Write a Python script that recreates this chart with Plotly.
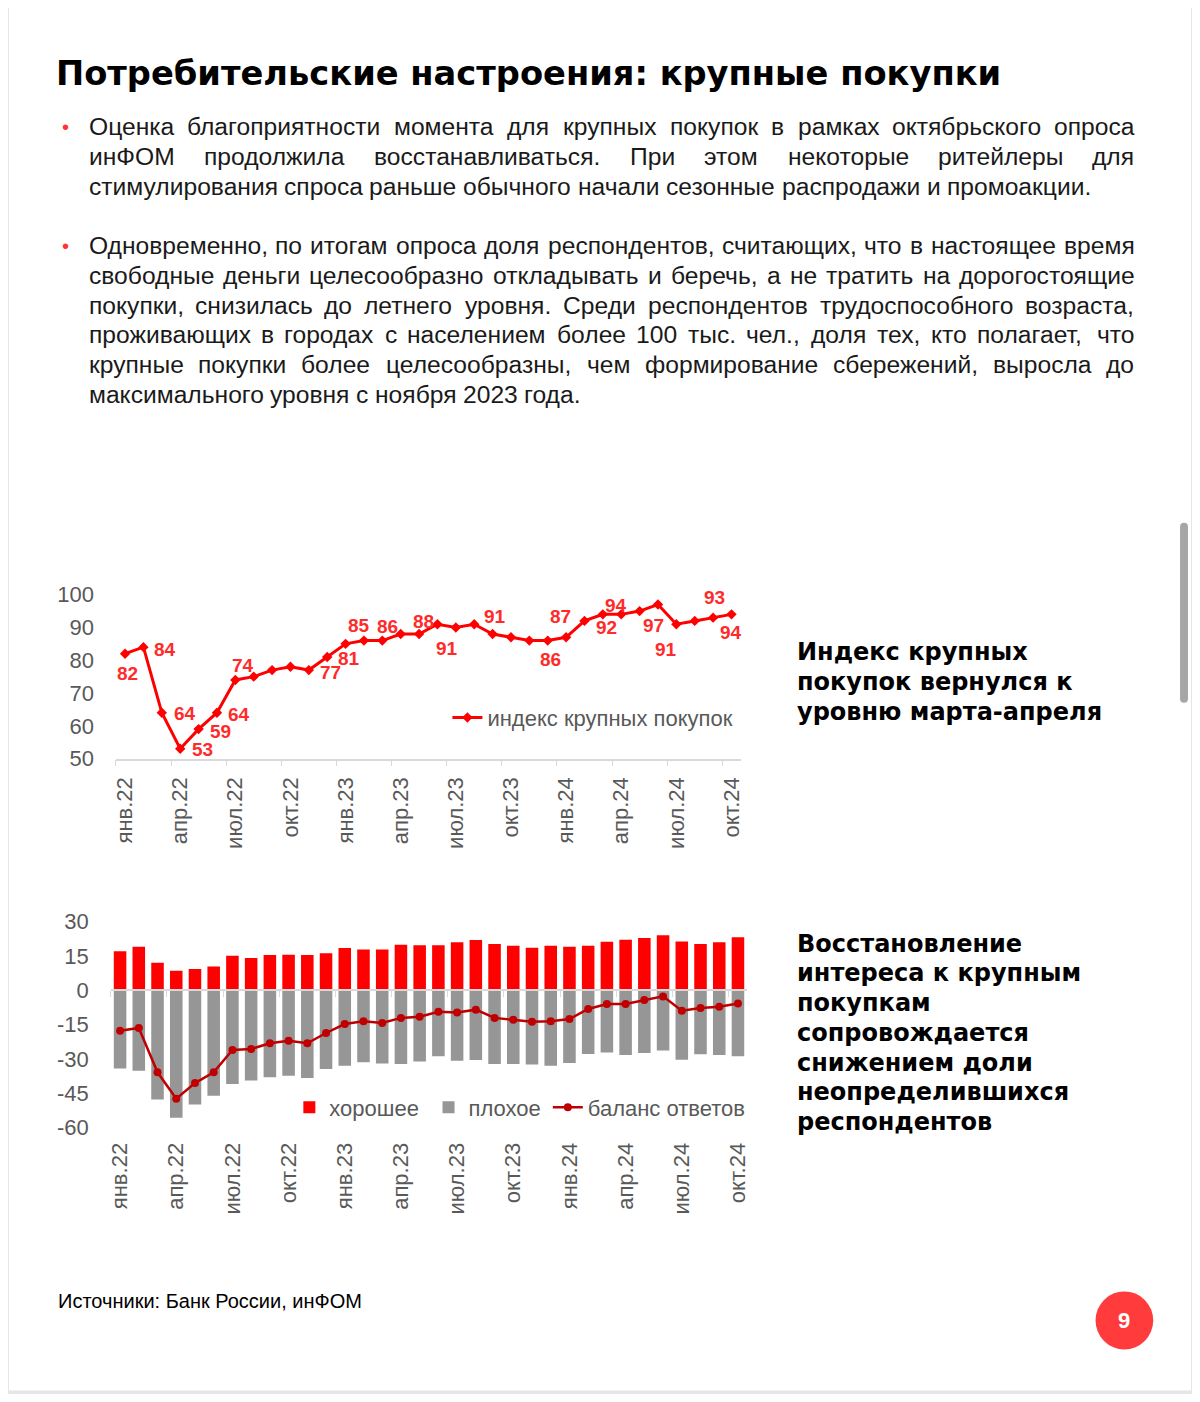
import plotly.graph_objects as go

# figure kept inside the window (browser default 8px body margin); small vertical calibration
OFF = 8
FW, FH = 1200 - 2 * OFF, 1402 - 2 * OFF
VS, VO = 0.9845, 11.1
def X(px): return (px - OFF) / FW
def Y(py):
    py = py + (py - 73) * 0.0022
    return 1 - ((py - VO) / VS - OFF) / FH

# ---------------- data ----------------
month_names = ['янв', 'фев', 'мар', 'апр', 'май', 'июн', 'июл', 'авг', 'сен', 'окт', 'ноя', 'дек']
months = [f"{m}.{yy}" for yy in ('22', '23', '24') for m in month_names][:34]
tick_months = ['янв.22', 'апр.22', 'июл.22', 'окт.22', 'янв.23', 'апр.23', 'июл.23', 'окт.23',
               'янв.24', 'апр.24', 'июл.24', 'окт.24']

index_vals = [82, 84, 64, 53, 59, 64, 74, 75, 77, 78, 77, 81, 85, 86, 86, 88, 88, 91, 90, 91,
              88, 87, 86, 86, 87, 92, 94, 94, 95, 97, 91, 92, 93, 94]
good = [17, 19, 12, 8.5, 9.3, 10.4, 15.1, 14.1, 15.4, 15.5, 15.4, 16.1, 18.4, 17.8, 17.8, 19.9, 19.7,
        19.7, 21, 21.9, 20.2, 19.4, 18.6, 19.4, 19, 19.4, 21.2, 22.1, 22.8, 24, 21.3, 20.2, 21, 23.1]
bad = [-34.2, -35.2, -47.8, -55.8, -50, -46.1, -41, -39.5, -38.1, -37.4, -38.4, -34.4, -33, -31.5, -32,
       -32.3, -31.2, -28.9, -30.8, -30.5, -32.3, -32.3, -32.5, -33, -31.8, -27.9, -27.2, -28.3, -27.4,
       -26.4, -30.4, -28, -28.3, -28.9]
balance = [-17.7, -16.5, -35.9, -47.4, -40.6, -35.9, -26.1, -25.7, -23.2, -22.1, -23.2, -18.7, -14.8,
           -13.6, -14.3, -12.1, -11.6, -9.4, -9.7, -8.5, -12.1, -12.9, -13.8, -13.6, -12.6, -8.2, -6,
           -6, -4.3, -2.7, -9, -7.8, -7.2, -5.8]

top_ticks = [50, 60, 70, 80, 90, 100]
bot_ticks = [-60, -45, -30, -15, 0, 15, 30]

# which points carry a data label and where (pixel offsets)
label_offsets = {0: (2, -20), 1: (22, -2), 2: (23, -1), 3: (22, -1), 4: (22, -2), 5: (22, -2),
                 6: (8, 14), 10: (22, -2), 11: (22, -2), 12: (13, 18), 14: (5, 14), 16: (4, 13),
                 17: (10, -24), 19: (21, 8), 22: (21, -19), 24: (-6, 21), 25: (22, -7), 26: (13, 9),
                 29: (-4, -21), 30: (-10, -25), 32: (1, 20), 33: (0, -18)}

title = "Потребительские настроения: крупные покупки"
para1 = ["Оценка благоприятности момента для крупных покупок в рамках октябрьского опроса",
         "инФОМ продолжила восстанавливаться. При этом некоторые ритейлеры для",
         "стимулирования спроса раньше обычного начали сезонные распродажи и промоакции."]
para2 = ["Одновременно, по итогам опроса доля респондентов, считающих, что в настоящее время",
         "свободные деньги целесообразно откладывать и беречь, а не тратить на дорогостоящие",
         "покупки, снизилась до летнего уровня. Среди респондентов трудоспособного возраста,",
         "проживающих в городах с населением более 100 тыс. чел., доля тех, кто полагает, что",
         "крупные покупки более целесообразны, чем формирование сбережений, выросла до",
         "максимального уровня с ноября 2023 года."]
side1 = ["Индекс крупных", "покупок вернулся к", "уровню марта-апреля"]
side2 = ["Восстановление", "интереса к крупным", "покупкам", "сопровождается",
         "снижением доли", "неопределившихся", "респондентов"]
source = "Источники: Банк России, инФОМ"
page_no = "9"

xs = list(range(len(months)))
tickvals = [months.index(m) for m in tick_months]

# ---------------- styles ----------------
RED = '#FF0000'
DARKRED = '#C00000'
GRAY = '#969696'
AX = '#595959'
BODY_FONT = 'Liberation Sans, Arial, sans-serif'
HEAVY_FONT = 'DejaVu Sans, sans-serif'

# Arial-metric character widths (em) for justification
CW = {'а': .556, 'б': .573, 'в': .531, 'г': .365, 'д': .583, 'е': .556, 'ё': .556, 'ж': .669, 'з': .458,
      'и': .559, 'й': .559, 'к': .438, 'л': .583, 'м': .688, 'н': .552, 'о': .556, 'п': .542, 'р': .556,
      'с': .500, 'т': .458, 'у': .500, 'ф': .823, 'х': .500, 'ц': .573, 'ч': .521, 'ш': .802, 'щ': .823,
      'ъ': .625, 'ы': .719, 'ь': .521, 'э': .510, 'ю': .750, 'я': .542,
      'О': .778, 'Ф': .781, 'М': .833, 'П': .722, 'Д': .677, 'С': .722, 'И': .722, 'Р': .667, 'Б': .656,
      ' ': .278, ',': .278, '.': .278, ':': .278, '-': .333}
def tw(s):
    return sum(CW.get(c, .556) for c in s)

LEFT, RIGHT = 84, 1136
body_fs = 1008 / tw(para1[2])

fig = go.Figure()

# ---------------- top chart ----------------
fig.add_trace(go.Scatter(x=xs, y=index_vals, mode='lines+markers', name='индекс крупных покупок',
                         line=dict(color=RED, width=3), marker=dict(symbol='diamond', size=8, color=RED),
                         xaxis='x', yaxis='y', legend='legend', hoverinfo='skip'))

# ---------------- bottom chart ----------------
fig.add_trace(go.Bar(x=xs, y=good, name='хорошее', marker=dict(color=RED, line=dict(width=0)),
                     xaxis='x2', yaxis='y2', legend='legend2', hoverinfo='skip'))
fig.add_trace(go.Bar(x=xs, y=bad, name='плохое', marker=dict(color=GRAY, line=dict(width=0)),
                     xaxis='x2', yaxis='y2', legend='legend3', hoverinfo='skip'))
fig.add_trace(go.Scatter(x=xs, y=balance, mode='lines+markers', name='баланс ответов',
                         line=dict(color=DARKRED, width=2.5), marker=dict(symbol='circle', size=8, color=DARKRED),
                         xaxis='x3', yaxis='y2', legend='legend4', hoverinfo='skip'))

tickfont = dict(family=BODY_FONT, size=22, color=AX)
ytickfont = dict(family=BODY_FONT, size=22, color=AX)

annotations = []
for i, (dx, dy) in label_offsets.items():
    annotations.append(dict(x=xs[i], y=index_vals[i], xref='x', yref='y', text=str(index_vals[i]),
                            showarrow=False, xshift=dx, yshift=dy,
                            font=dict(family=BODY_FONT, size=19, color='#FF2B2B', weight='bold')))

# title
annotations.append(dict(x=X(50), y=Y(73), xref='paper', yref='paper', text=title, showarrow=False,
                        xanchor='left', yanchor='middle',
                        font=dict(family=HEAVY_FONT, size=33.7, color='#000000', weight='bold')))

# body text, justified word by word
def add_par(lines, y0):
    for k, line in enumerate(lines):
        py = y0 + k * 29.7
        words = line.split(' ')
        last = (k == len(lines) - 1)
        widths = [tw(w) * body_fs for w in words]
        if last or len(words) < 2:
            gap = tw(' ') * body_fs
        else:
            gap = (RIGHT - LEFT - sum(widths)) / (len(words) - 1)
        x = LEFT
        for w, wd in zip(words, widths):
            annotations.append(dict(x=X(x), y=Y(py), xref='paper', yref='paper', text=w, showarrow=False,
                                    xanchor='left', yanchor='middle', borderpad=0,
                                    font=dict(family=BODY_FONT, size=body_fs, color='#1a1a1a')))
            x += wd + gap
    annotations.append(dict(x=X(62), y=Y(y0), xref='paper', yref='paper', text='•', showarrow=False,
                            xanchor='center', yanchor='middle',
                            font=dict(family=BODY_FONT, size=20, color='#FF3333')))

add_par(para1, 126)
add_par(para2, 245)

for k, line in enumerate(side1):
    annotations.append(dict(x=X(796), y=Y(651 + k * 30), xref='paper', yref='paper', text=line,
                            showarrow=False, xanchor='left', yanchor='middle',
                            font=dict(family=HEAVY_FONT, size=24, color='#000000', weight='bold')))
for k, line in enumerate(side2):
    annotations.append(dict(x=X(796), y=Y(943 + k * 29.8), xref='paper', yref='paper', text=line,
                            showarrow=False, xanchor='left', yanchor='middle',
                            font=dict(family=HEAVY_FONT, size=24, color='#000000', weight='bold')))

annotations.append(dict(x=X(52), y=Y(1301), xref='paper', yref='paper', text=source, showarrow=False,
                        xanchor='left', yanchor='middle',
                        font=dict(family=BODY_FONT, size=20, color='#000000')))
annotations.append(dict(x=X(1127), y=Y(1320), xref='paper', yref='paper', text=page_no, showarrow=False,
                        xanchor='center', yanchor='middle',
                        font=dict(family=BODY_FONT, size=22, color='#FFFFFF', weight='bold')))

shapes = [
    dict(type='rect', xref='paper', yref='paper', x0=X(5), x1=X(1194), y0=Y(1390), y1=1.05,
         fillcolor='#FFFFFF', line=dict(width=0), layer='below'),
    dict(type='path', xref='paper', yref='paper',
         path=(f"M {X(1183)},{Y(526)} Q {X(1183)},{Y(522)} {X(1187)},{Y(522)} Q {X(1191)},{Y(522)} {X(1191)},{Y(526)} "
               f"L {X(1191)},{Y(698)} Q {X(1191)},{Y(702)} {X(1187)},{Y(702)} Q {X(1183)},{Y(702)} {X(1183)},{Y(698)} Z"),
         fillcolor='#A6A6A6', line=dict(width=0), layer='below'),
    dict(type='circle', xref='paper', yref='paper', x0=X(1098), x1=X(1156), y0=Y(1349), y1=Y(1291),
         fillcolor='#FF3B3B', line=dict(width=0), layer='below'),
]

top_dom_x = [X(112.5), X(741)]
bot_dom_x = [X(107.3), X(747.7)]
minor = dict(ticks='outside', ticklen=6, tickcolor='#D9D9D9', tickwidth=1, tick0=-0.5, dtick=3, showgrid=False)

legend_common = dict(xanchor='left', yanchor='middle', bgcolor='rgba(0,0,0,0)', borderwidth=0,
                     font=dict(family=BODY_FONT, size=22, color=AX), orientation='h')

fig.update_layout(
    width=FW, height=FH, autosize=False,
    margin=dict(l=0, r=0, t=0, b=0),
    paper_bgcolor='#E6E6EA', plot_bgcolor='rgba(0,0,0,0)',
    barmode='relative', bargap=0.33,
    showlegend=True,
    xaxis=dict(domain=top_dom_x, anchor='y', range=[-0.5, 33.5], tickmode='array', tickvals=tickvals,
               ticktext=tick_months, tickangle=-90, tickfont=tickfont, ticks='', showgrid=False,
               zeroline=False, showline=True, linecolor='#D9D9D9', linewidth=1.5, minor=minor,
               ticklabelstandoff=8, fixedrange=True),
    yaxis=dict(domain=[Y(758), Y(594)], anchor='x', range=[50, 100], tickmode='array', tickvals=top_ticks,
               ticktext=[str(v) for v in top_ticks],
               tickfont=ytickfont, showgrid=False, zeroline=False, showline=False, ticks='',
               ticklabelstandoff=21, fixedrange=True),
    xaxis2=dict(domain=bot_dom_x, anchor='free', position=Y(989.5), range=[-0.5, 33.5],
                showticklabels=False, ticks='', showgrid=False, zeroline=False, showline=True,
                linecolor='#D9D9D9', linewidth=1.5, minor=minor, fixedrange=True),
    xaxis3=dict(domain=bot_dom_x, anchor='y2', overlaying='x2', range=[-0.5, 33.5], tickmode='array',
                tickvals=tickvals, ticktext=tick_months, tickangle=-90, tickfont=tickfont, ticks='',
                showgrid=False, zeroline=False, showline=False, ticklabelstandoff=10, fixedrange=True),
    yaxis2=dict(domain=[Y(1127), Y(921)], anchor='x2', range=[-60, 30], tickmode='array', tickvals=bot_ticks,
                ticktext=[str(v) for v in bot_ticks],
                tickfont=ytickfont, showgrid=False, zeroline=False, showline=False, ticks='',
                ticklabelstandoff=21, fixedrange=True),
    legend=dict(x=X(446), y=Y(717), **legend_common),
    legend2=dict(x=X(287), y=Y(1107), **legend_common),
    legend3=dict(x=X(427), y=Y(1107), **legend_common),
    legend4=dict(x=X(547), y=Y(1107), **legend_common),
    annotations=annotations,
    shapes=shapes,
)

fig.write_html("out.html")
